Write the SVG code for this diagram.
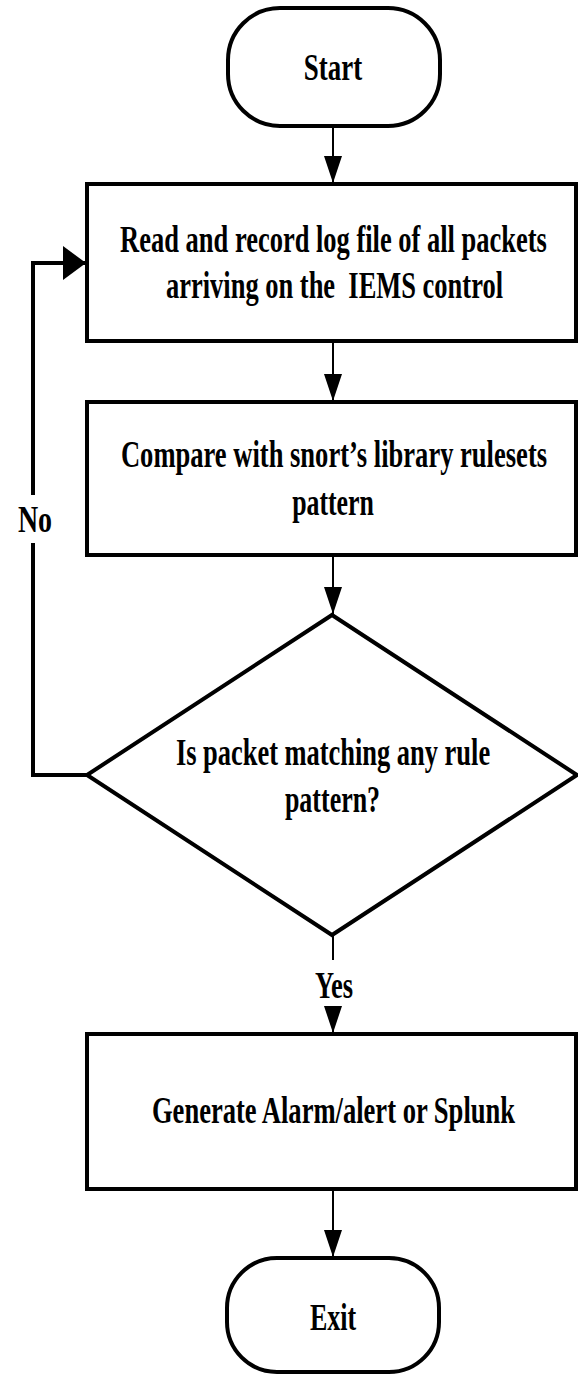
<svg xmlns="http://www.w3.org/2000/svg" width="578" height="1376" viewBox="0 0 578 1376">
  <defs>
    <style>
      .shape { fill: #fff; stroke: #000; stroke-width: 4; }
      .flow { fill: none; stroke: #000; stroke-width: 2; }
      .loop { fill: none; stroke: #000; stroke-width: 4; }
      .label { font-family: "Liberation Serif", "Times New Roman", serif; font-weight: bold; font-size: 37px; fill: #000; text-anchor: middle; }
    </style>
    <marker id="arrow" markerUnits="userSpaceOnUse" markerWidth="28" markerHeight="18" refX="27" refY="9" orient="auto">
      <path d="M0,0 L27,9 L0,18 Z" fill="#000"/>
    </marker>
    <marker id="arrowBig" markerUnits="userSpaceOnUse" markerWidth="24" markerHeight="34" refX="23" refY="17" orient="auto">
      <path d="M0,0 L23,17 L0,34 Z" fill="#000"/>
    </marker>
  </defs>

  <rect width="578" height="1376" fill="#fff"/>

  <!-- connectors; labels are narrowed with a horizontal scale of 0.67 -->
  <g id="connectors">
    <path class="flow" d="M333,126 V183" marker-end="url(#arrow)"/>
    <path class="flow" d="M333,341 V401" marker-end="url(#arrow)"/>
    <path class="flow" d="M333,555 V614" marker-end="url(#arrow)"/>
    <path class="flow" d="M333,936 V960"/>
    <path class="flow" d="M333,1006 V1033" marker-end="url(#arrow)"/>
    <path class="flow" d="M333,1189 V1257" marker-end="url(#arrow)"/>
    <!-- "No" branch loops back to the first step -->
    <path class="loop" d="M87,775 H33 V543"/>
    <path class="loop" d="M33,495 V263 H86" marker-end="url(#arrowBig)"/>
    <text class="label" transform="translate(35,532) scale(0.67,1)" textLength="51" lengthAdjust="spacingAndGlyphs">No</text>
    <text class="label" transform="translate(334,998) scale(0.67,1)" textLength="57" lengthAdjust="spacingAndGlyphs">Yes</text>
  </g>

  <g id="start">
    <rect class="shape" x="228" y="8" width="212" height="118" rx="52" ry="52"/>
    <text class="label" transform="translate(333,80) scale(0.67,1)" textLength="87" lengthAdjust="spacingAndGlyphs">Start</text>
  </g>

  <g id="read-log">
    <rect class="shape" x="87" y="184" width="489" height="157"/>
    <text class="label" transform="translate(333.5,252) scale(0.67,1)" textLength="637" lengthAdjust="spacingAndGlyphs">Read and record log file of all packets</text>
    <text class="label" transform="translate(334.5,298) scale(0.67,1)" textLength="503" lengthAdjust="spacingAndGlyphs" style="white-space:pre">arriving on the  IEMS control</text>
  </g>

  <g id="compare">
    <rect class="shape" x="87" y="402" width="489" height="153"/>
    <text class="label" transform="translate(334,467) scale(0.67,1)" textLength="636" lengthAdjust="spacingAndGlyphs">Compare with snort’s library rulesets</text>
    <text class="label" transform="translate(333,515) scale(0.67,1)" textLength="122" lengthAdjust="spacingAndGlyphs">pattern</text>
  </g>

  <g id="decision">
    <polygon class="shape" points="332,615 577,775 332,935 87,775"/>
    <text class="label" transform="translate(333,765) scale(0.67,1)" textLength="469" lengthAdjust="spacingAndGlyphs">Is packet matching any rule</text>
    <text class="label" transform="translate(332.5,812) scale(0.67,1)" textLength="142" lengthAdjust="spacingAndGlyphs">pattern?</text>
  </g>

  <g id="alarm">
    <rect class="shape" x="87" y="1034" width="489" height="155"/>
    <text class="label" transform="translate(333.5,1123) scale(0.67,1)" textLength="542" lengthAdjust="spacingAndGlyphs">Generate Alarm/alert or Splunk</text>
  </g>

  <g id="exit">
    <rect class="shape" x="227" y="1258" width="212" height="114" rx="50" ry="50"/>
    <text class="label" transform="translate(333,1330) scale(0.67,1)" textLength="69" lengthAdjust="spacingAndGlyphs">Exit</text>
  </g>
</svg>
